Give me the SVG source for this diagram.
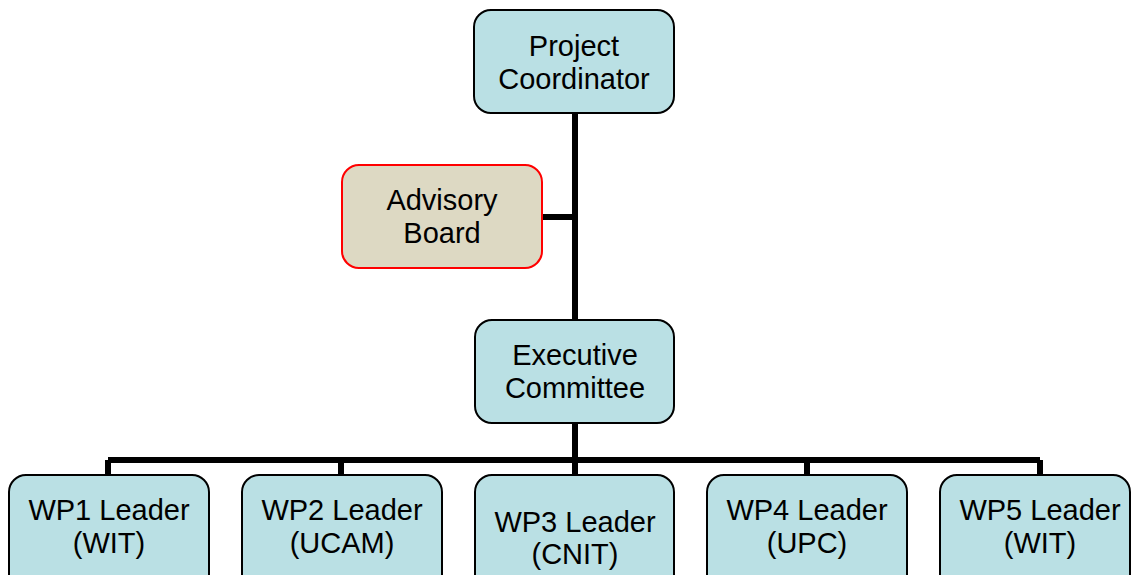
<svg xmlns="http://www.w3.org/2000/svg" width="1131" height="575" viewBox="0 0 1131 575">
<style>
.box{fill:#BAE0E4;stroke:#000;stroke-width:2}
.adv{fill:#DDD9C3;stroke:#FF0000;stroke-width:2}
.lbl{font-family:"Liberation Sans",Arial,sans-serif;font-size:29px;fill:#000;text-anchor:middle}
.con{fill:none;stroke:#000;stroke-width:6;stroke-linecap:butt;stroke-linejoin:miter}
</style>
<rect width="1131" height="575" fill="#fff"/>
<g id="connectors">
<path class="con" d="M575 113 V320 M542 217 H575 M575 423 V475 M108 460 H1040 M108 460 V475 M341 460 V475 M807 460 V475 M1040 460 V475"/>
</g>
<g id="project-coordinator">
<rect class="box" x="474" y="10" width="200" height="103" rx="17"/>
<text class="lbl" x="574" y="56">Project</text>
<text class="lbl" x="574" y="89">Coordinator</text>
</g>
<g id="advisory-board">
<rect class="adv" x="342" y="165" width="200" height="103" rx="17"/>
<text class="lbl" x="442" y="210">Advisory</text>
<text class="lbl" x="442" y="243">Board</text>
</g>
<g id="executive-committee">
<rect class="box" x="475" y="320" width="199" height="103" rx="17"/>
<text class="lbl" x="575" y="365">Executive</text>
<text class="lbl" x="575" y="398">Committee</text>
</g>
<g id="wp1">
<rect class="box" x="9" y="475" width="200" height="120" rx="17"/>
<text class="lbl" x="109" y="520">WP1 Leader</text>
<text class="lbl" x="109" y="553">(WIT)</text>
</g>
<g id="wp2">
<rect class="box" x="242" y="475" width="200" height="120" rx="17"/>
<text class="lbl" x="342" y="520">WP2 Leader</text>
<text class="lbl" x="342" y="553">(UCAM)</text>
</g>
<g id="wp3">
<rect class="box" x="475" y="475" width="199" height="120" rx="17"/>
<text class="lbl" x="575" y="532">WP3 Leader</text>
<text class="lbl" x="575" y="564">(CNIT)</text>
</g>
<g id="wp4">
<rect class="box" x="707" y="475" width="200" height="120" rx="17"/>
<text class="lbl" x="807" y="520">WP4 Leader</text>
<text class="lbl" x="807" y="553">(UPC)</text>
</g>
<g id="wp5">
<rect class="box" x="940" y="475" width="190" height="120" rx="17"/>
<text class="lbl" x="1040" y="520">WP5 Leader</text>
<text class="lbl" x="1040" y="553">(WIT)</text>
</g>
</svg>
